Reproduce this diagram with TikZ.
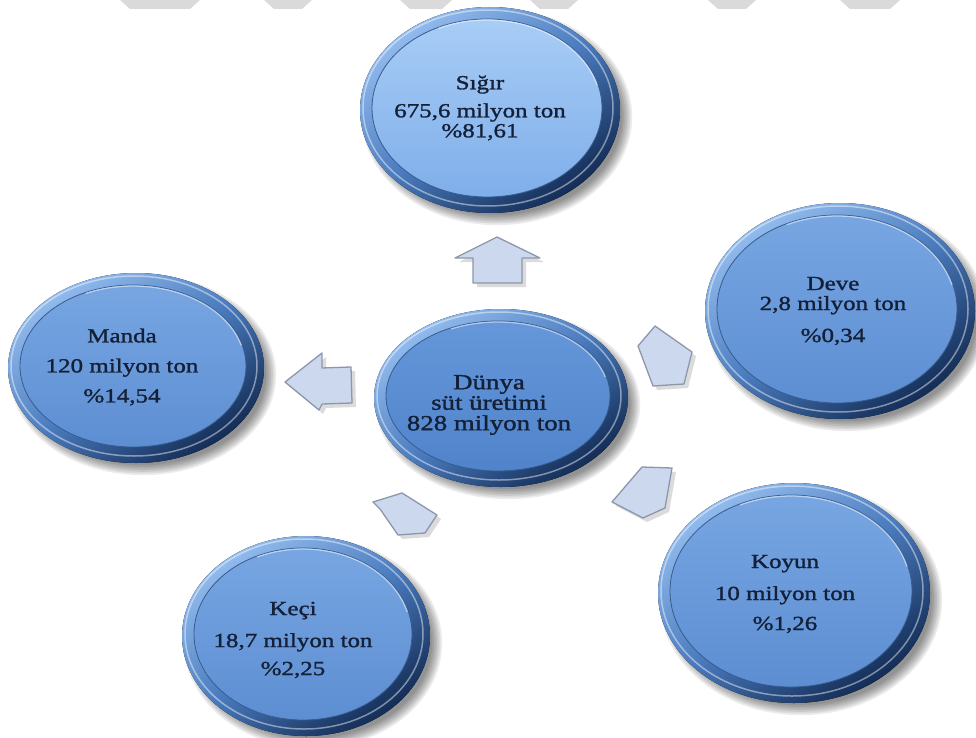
\documentclass[tikz,border=0pt]{standalone}
\usepackage{fontspec}
\setmainfont[FakeStretch=1.25,FakeBold=1.4]{Liberation Serif}
\usetikzlibrary{shapes.geometric,calc}
\definecolor{txt}{HTML}{142038}
\definecolor{ringlight}{HTML}{93BCEE}
\definecolor{ringmid}{HTML}{4A7BBE}
\definecolor{ringdark}{HTML}{132C55}
\definecolor{sigtop}{HTML}{A8CDF6}
\definecolor{sigbot}{HTML}{7FAEEA}
\definecolor{disctop}{HTML}{77A6E2}
\definecolor{discbot}{HTML}{5D8ED2}
\definecolor{ctop}{HTML}{6597DA}
\definecolor{cbot}{HTML}{5083CA}
\definecolor{arrowfill}{HTML}{CCD8EE}
\definecolor{arrowedge}{HTML}{8D97AB}
\definecolor{barcol}{HTML}{DADADA}
\tikzset{
  ring/.style={top color=ringlight, bottom color=ringdark, middle color=ringmid, shading angle=35},
  disc/.style={ellipse, inner sep=0pt, draw=ringmid!75!black, line width=0.8pt},
  lightdisc/.style={top color=sigtop, bottom color=sigbot},
  normdisc/.style={top color=disctop, bottom color=discbot},
  centdisc/.style={top color=ctop, bottom color=cbot},
  lbl/.style={inner sep=0pt, text=txt, align=center, font=\fontsize{20}{30}\selectfont},
  barrow/.style={fill=arrowfill, draw=arrowedge, line width=1.3pt, line join=round},
  topbar/.style={fill=barcol}
}
\newcommand\bubble[9]{%
  \begin{scope}[shift={(#2,#3)}]
    \foreach \k in {0,...,6}{
      \fill[black,opacity=0.075] (7,7) ellipse [x radius=#4-5+1.7*\k, y radius=#5-5+1.7*\k];
    }
    \fill[ring] (0,0) ellipse [x radius=#4, y radius=#5];
    \draw[white,opacity=.45,line width=1.5pt] (-2,-2) ellipse [x radius=#4-5, y radius=#5-5];
  \end{scope}
  \node[disc, #6, minimum width={2*#4-30}, minimum height={2*#5-28}] (#1) at ($(#2,#3)+(-3,-2)$) {};
  \draw[white,opacity=.5,line width=1.3pt] (#1.center) ++(-15:{#4-16} and {#5-15}) arc [start angle=-15, end angle=-115, x radius=#4-16, y radius=#5-15];
  \node[lbl, #9] (#1-text) at ($(#1.center)+(#8)$) {#7};
}
\newcommand\blockarrow[1]{%
  \fill[black,opacity=.14,shift={(4,4)}] #1;
  \filldraw[barrow] #1;
}
\begin{document}
\begin{tikzpicture}[x=1pt,y=-1pt]
\useasboundingbox (0,0) rectangle (976,738);
\fill[white] (0,0) rectangle (976,738);
% faint top bars
\foreach \a/\b in {120/200,264/312,400/452,530/578,708/756,840/900}{
  \fill[topbar] (\a,0) -- (\b,0) -- (\b-10,9) -- (\a+10,9) -- cycle;
}
% bubbles
\bubble{sigir}{490}{110}{130}{103}{lightdisc}{Sığır\\[-2pt]675,6 milyon ton\\[-10pt]\%81,61}{-7,0}{}
\bubble{deve}{840}{311}{135}{108}{normdisc}{Deve\\[-10pt]2,8 milyon ton\\[2pt]\%0,34}{-4,2}{}
\bubble{manda}{136}{368}{128}{95}{normdisc}{Manda\\120 milyon ton\\\%14,54}{-11,1}{}
\bubble{koyun}{794}{593}{136}{110}{normdisc}{Koyun\\[2pt]10 milyon ton\\\%1,26}{-6,3}{}
\bubble{keci}{306}{636}{124}{100}{normdisc}{Keçi\\[2pt]18,7 milyon ton\\[-2pt]\%2,25}{-10,6}{}
\bubble{dunya}{501}{398}{127}{89}{centdisc}{Dünya\\süt üretimi\\828 milyon ton}{-9,9}{font=\fontsize{21.5}{20.5}\selectfont}
% block arrows
\blockarrow{(497,237) -- (540,258) -- (522,258) -- (522,283) -- (473,283) -- (473,258) -- (455,258) -- cycle}
\blockarrow{(285,382) -- (322,353) -- (322,368) -- (351,367) -- (352,403) -- (322,404) -- (319,410) -- cycle}
\blockarrow{(655,326) -- (692,352) -- (684,384) -- (653,386) -- (638,346) -- cycle}
\blockarrow{(373,502) -- (402,493) -- (437,515) -- (425,533) -- (398,535) -- (380,509) -- cycle}
\blockarrow{(642,467) -- (672,468) -- (665,508) -- (643,518) -- (612,502) -- cycle}
\end{tikzpicture}
\end{document}
